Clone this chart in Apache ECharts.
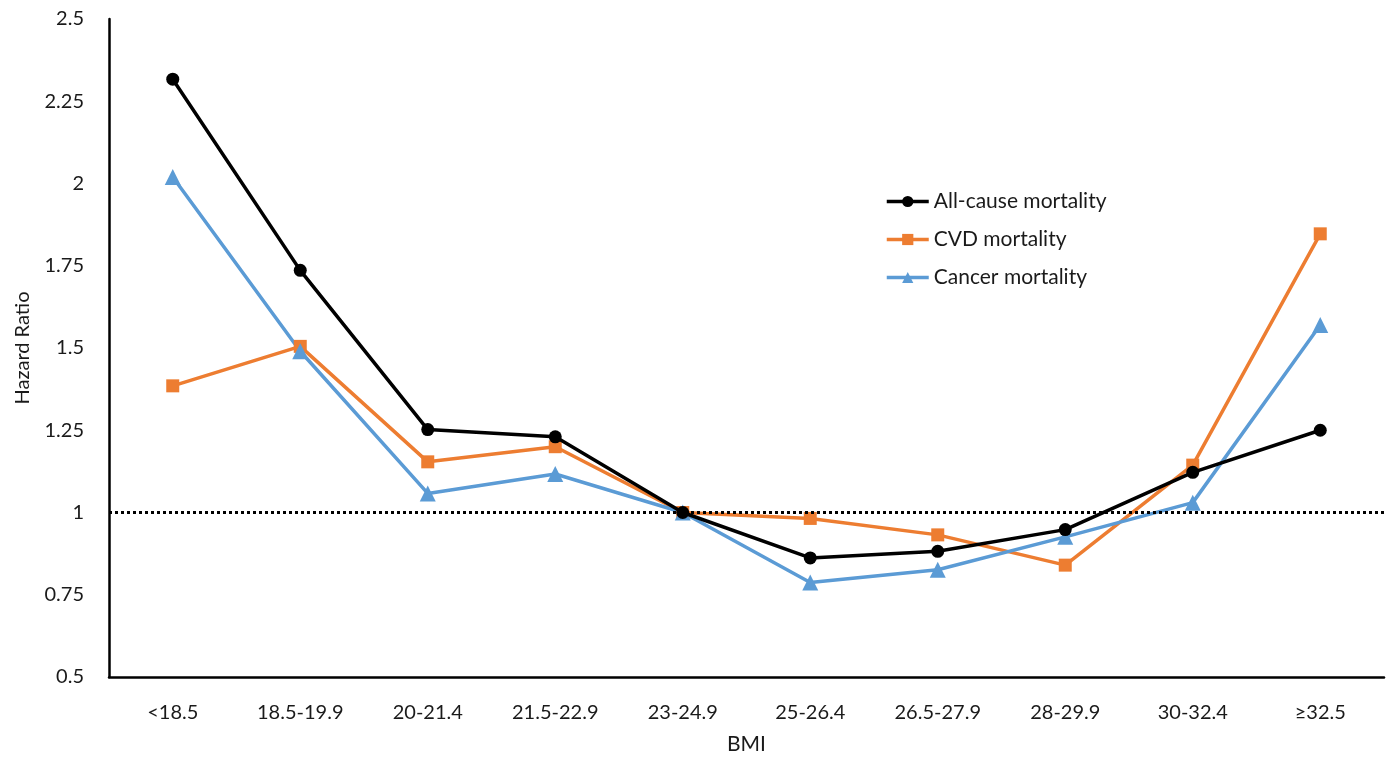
<!DOCTYPE html>
<html>
<head>
<meta charset="utf-8">
<script src="https://cdn.jsdelivr.net/npm/echarts@6/dist/echarts.min.js"></script>
<style>
  html, body { margin: 0; padding: 0; background: #fff; }
  #chart { width: 1388px; height: 759px; }
</style>
</head>
<body>
<div id="chart"></div>
<script>
const categories = ['<18.5', '18.5-19.9', '20-21.4', '21.5-22.9', '23-24.9', '25-26.4', '26.5-27.9', '28-29.9', '30-32.4', '≥32.5']
const allCause = [2.317, 1.736, 1.252, 1.23, 1.0, 0.862, 0.882, 0.948, 1.122, 1.25]
const cvd = [1.385, 1.505, 1.154, 1.2, 1.0, 0.982, 0.932, 0.84, 1.144, 1.847]
const cancer = [2.02, 1.49, 1.058, 1.117, 1.0, 0.787, 0.826, 0.926, 1.03, 1.57]
const yTicks = [0.5, 0.75, 1, 1.25, 1.5, 1.75, 2, 2.25, 2.5]

const font = 'Lato, "Open Sans", sans-serif'
const chart = echarts.init(document.getElementById('chart'))

const option = {
  animation: false,
  textStyle: { fontFamily: font },
  grid: { left: 109, right: 4, top: 19, bottom: 82, outerBoundsMode: 'none' },
  legend: {
    orient: 'vertical',
    left: 880,
    top: 186,
    itemWidth: 42,
    itemHeight: 14,
    itemGap: 17,
    lineStyle: { width: 3.5 },
    textStyle: { fontSize: 21, color: '#1a1a1a', fontFamily: font },
    data: ['All-cause mortality', 'CVD mortality', 'Cancer mortality']
  },
  xAxis: {
    type: 'category',
    data: categories,
    name: 'BMI',
    nameLocation: 'middle',
    nameGap: 57,
    nameTextStyle: { fontSize: 21, color: '#1a1a1a' },
    axisLine: { lineStyle: { color: '#000', width: 2.5 } },
    axisTick: { show: false },
    axisLabel: { fontSize: 20, color: '#1a1a1a', margin: 26 }
  },
  yAxis: {
    type: 'value',
    min: 0.5,
    max: 2.5,
    interval: 0.25,
    name: 'Hazard Ratio',
    nameLocation: 'middle',
    nameGap: 76,
    nameTextStyle: { fontSize: 20, color: '#1a1a1a' },
    axisLine: { show: true, lineStyle: { color: '#000', width: 2.5 } },
    axisTick: { show: false },
    splitLine: { show: false },
    axisLabel: {
      fontSize: 20,
      color: '#1a1a1a',
      margin: 25,
      formatter: v => (yTicks.includes(v) ? String(v) : '')
    }
  },
  series: [
    {
      name: 'All-cause mortality',
      type: 'line',
      data: allCause,
      symbol: 'circle',
      symbolSize: 13,
      z: 3,
      lineStyle: { color: '#000', width: 3.5 },
      itemStyle: { color: '#000' },
      markLine: {
        silent: true,
        symbol: 'none',
        label: { show: false },
        lineStyle: { color: '#000', type: [3, 3], width: 3 },
        data: [{ yAxis: 1 }]
      }
    },
    {
      name: 'CVD mortality',
      type: 'line',
      data: cvd,
      symbol: 'rect',
      symbolSize: 13,
      z: 2,
      lineStyle: { color: '#ED7D31', width: 3.5 },
      itemStyle: { color: '#ED7D31' }
    },
    {
      name: 'Cancer mortality',
      type: 'line',
      data: cancer,
      symbol: 'triangle',
      symbolSize: 16,
      z: 2,
      lineStyle: { color: '#5B9BD5', width: 3.5 },
      itemStyle: { color: '#5B9BD5' }
    }
  ]
}

chart.setOption(option)
</script>
</body>
</html>
